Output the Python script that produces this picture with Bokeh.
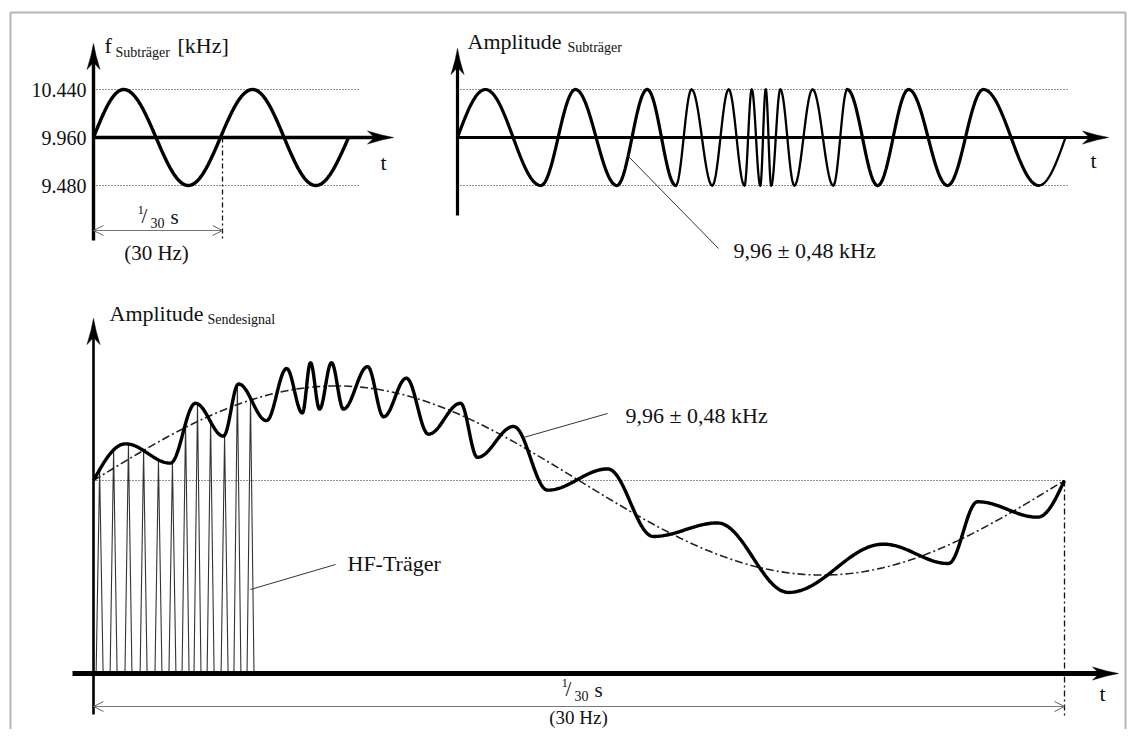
import numpy as np
from bokeh.plotting import figure
from bokeh.models import Range1d, Label, Arrow, OpenHead, ColumnDataSource
from bokeh.core.properties import value
from bokeh.embed import file_html
from bokeh.resources import INLINE

# ---------------- data ----------------
PERIOD_MS = 1000.0 / 30.0            # 1/30 s  (30 Hz)

# Panel 1: subcarrier frequency [kHz] over time [ms] (extrema of the 30 Hz sine)
f_tick_values = [10.440, 9.960, 9.480]
f_tick_labels = ["10.440", "9.960", "9.480"]
f_centre_khz = 9.960
f_wave_t_ms = [0.0, 7.8, 24.5, 41.1, 57.4, 65.9]
f_wave_khz = [9.960, 10.440, 9.480, 10.440, 9.480, 9.960]
f_ref_end_ms = 68.5

# Panel 2: subcarrier amplitude (normalised time 0..1), positions of the extrema
sub_t = [0.000, 0.046, 0.137, 0.194, 0.262, 0.312, 0.359, 0.385, 0.419, 0.446,
         0.472, 0.484, 0.498, 0.507, 0.516, 0.531, 0.554, 0.584, 0.618, 0.641,
         0.691, 0.742, 0.806, 0.865, 0.956, 1.000]
sub_amp = [0, 1, -1, 1, -1, 1, -1, 1, -1, 1, -1, 1, -1,
           1, -1, 1, -1, 1, -1, 1, -1, 1, -1, 1, -1, 0]
sub_ref_end = 1.005

# Panel 3: transmitted signal amplitude over time [ms] (extrema of the thick curve)
send_t_ms = [0.00, 1.10, 2.64, 3.50, 4.46, 4.98, 5.94, 6.63, 7.17, 7.45,
             7.76, 8.17, 8.58, 9.41, 9.96, 10.74, 11.50, 12.60, 13.18, 14.42,
             15.59, 17.65, 19.22, 21.42, 23.86, 27.12, 29.35, 30.35, 32.41, 33.33]
send_amp = [1.00, 1.19, 1.09, 1.40, 1.23, 1.50, 1.31, 1.58, 1.35, 1.61,
            1.37, 1.61, 1.37, 1.59, 1.33, 1.53, 1.24, 1.40, 1.12, 1.28,
            0.95, 1.06, 0.71, 0.78, 0.42, 0.67, 0.57, 0.89, 0.81, 1.00]
env_t_ms = [0.0, 8.33, 25.0, 33.33]      # 30 Hz envelope (dash-dot)
env_amp = [1.00, 1.49, 0.51, 1.00]
rest_amp = 1.0
hf_peak_t_ms = [0.21, 0.69, 1.20, 1.72, 2.23, 2.71, 3.16, 3.57, 4.02, 4.50, 4.94, 5.39]
hf_half_width_ms = 0.12

label_freq = "9,96 \u00b1 0,48 kHz"

# ---------------- figure ----------------
W, H = 1127, 729
PX0, PY0 = 0, 0          # picture coordinates of the plot's top-left corner
FONT = "Liberation Serif"

p = figure(width=W, height=H, output_backend="svg", toolbar_location=None,
           x_range=Range1d(PX0, PX0 + W), y_range=Range1d(PY0 + H, PY0),
           min_border=0, x_axis_location=None, y_axis_location=None,
           outline_line_color=None, background_fill_color="white",
           border_fill_color="white")
p.xgrid.visible = False
p.ygrid.visible = False


class Lin:
    def __init__(self, d0, d1, q0, q1):
        self.d0, self.q0 = d0, q0
        self.k = (q1 - q0) / (d1 - d0)

    def __call__(self, d):
        return self.q0 + (np.asarray(d, dtype=float) - self.d0) * self.k

    def inv(self, q):
        return self.d0 + (q - self.q0) / self.k


P1X, P1Y = Lin(0, PERIOD_MS, 93, 222), Lin(9.96, 10.44, 137, 89)
P2X, P2Y = Lin(0, 1, 457, 1065), Lin(0, 1, 137, 89)
P3X, P3Y = Lin(0, PERIOD_MS, 93, 1064), Lin(0, 1, 673, 480)


def xr(m):
    return Range1d(start=m.inv(PX0), end=m.inv(PX0 + W))


def yr(m):
    return Range1d(start=m.inv(PY0 + H), end=m.inv(PY0))


p.extra_x_ranges = {"p1x": xr(P1X), "p2x": xr(P2X), "p3x": xr(P3X)}
p.extra_y_ranges = {"p1y": yr(P1Y), "p2y": yr(P2Y), "p3y": yr(P3Y)}


def shaped(ts, vs, n=40):
    segs = []
    last = len(ts) - 1
    for i in range(last):
        k0 = "c" if i == 0 else "e"
        k1 = "c" if i + 1 == last else "e"
        u = np.linspace(0, 1, n)
        if k0 == "e" and k1 == "e":
            f = (1 - np.cos(np.pi * u)) / 2
        elif k0 == "c" and k1 == "e":
            f = np.sin(np.pi * u / 2)
        elif k0 == "e" and k1 == "c":
            f = 1 - np.cos(np.pi * u / 2)
        else:
            f = u
        segs.append((ts[i] + (ts[i + 1] - ts[i]) * u, vs[i] + (vs[i + 1] - vs[i]) * f))
    return segs


def joined(segs):
    x = np.concatenate([s[0] if i == 0 else s[0][1:] for i, s in enumerate(segs)])
    y = np.concatenate([s[1] if i == 0 else s[1][1:] for i, s in enumerate(segs)])
    return x, y


# ---------------- frame ----------------
p.line([10, 10, 1125, 1125], [760, 12, 12, 760], line_color="#b5b5b5", line_width=2)

# ---------------- reference lines ----------------
DOT = "1 2"
DASHDOT = "8 3 2 3"
for v in (f_tick_values[0], f_tick_values[2]):
    p.line([0, f_ref_end_ms], [v, v], x_range_name="p1x", y_range_name="p1y",
           line_color="#222", line_width=1.2, line_dash=DOT)
for v in (1, -1):
    p.line([0, sub_ref_end], [v, v], x_range_name="p2x", y_range_name="p2y",
           line_color="#222", line_width=1.2, line_dash=DOT)
p.line([0, PERIOD_MS], [rest_amp, rest_amp], x_range_name="p3x", y_range_name="p3y",
       line_color="#222", line_width=1.2, line_dash=DOT)

# dash-dot period markers
p.line([PERIOD_MS, PERIOD_MS], [f_centre_khz, P1Y.inv(240)], x_range_name="p1x",
       y_range_name="p1y", line_color="#111", line_width=1.3, line_dash="5 3 2 3")
p.line([PERIOD_MS, PERIOD_MS], [rest_amp, P3Y.inv(716)], x_range_name="p3x",
       y_range_name="p3y", line_color="#111", line_width=1.3, line_dash="6 3 2 3")

# ---------------- panel 1 curve ----------------
fx, fy = joined(shaped(f_wave_t_ms, f_wave_khz))
p.line(fx, fy, x_range_name="p1x", y_range_name="p1y", line_color="black",
       line_width=3.4, line_join="round")

# ---------------- panel 2 curve (FM subcarrier) ----------------
segs2 = shaped(sub_t, sub_amp, n=30)
lw2 = [3.2 if (s[0][-1] - s[0][0]) >= 0.045 else 2.3 for s in segs2]
src2 = ColumnDataSource(dict(xs=[list(s[0]) for s in segs2],
                             ys=[list(s[1]) for s in segs2], lw=lw2))
p.multi_line("xs", "ys", source=src2, x_range_name="p2x", y_range_name="p2y",
             line_color="black", line_width="lw", line_join="round", line_cap="round")

# ---------------- panel 3 ----------------
sx, sy = joined(shaped(send_t_ms, send_amp, n=40))
hf_top = np.interp(hf_peak_t_ms, sx, sy)
hf_xs = [[t - hf_half_width_ms, t, t + hf_half_width_ms] for t in hf_peak_t_ms]
hf_ys = [[0, a, 0] for a in hf_top]
p.multi_line(hf_xs, hf_ys, x_range_name="p3x", y_range_name="p3y",
             line_color="#333", line_width=1.1)

ex, ey = joined(shaped(env_t_ms, env_amp, n=80))
p.line(ex, ey, x_range_name="p3x", y_range_name="p3y", line_color="#222",
       line_width=1.6, line_dash=DASHDOT)
p.line(sx, sy, x_range_name="p3x", y_range_name="p3y", line_color="black",
       line_width=3.4, line_join="round")

# ---------------- axes with arrow heads (page coordinates) ----------------
def stealth(tx, ty, d):
    L, Wd, N, M, Mw = 26, 6.5, 19, 12, 2.5
    pts = [(0, 0), (M, -Mw), (L, -Wd), (N, 0), (L, Wd), (M, Mw)]
    if d == "up":
        return [tx + b for a, b in pts], [ty + a for a, b in pts]
    return [tx - a for a, b in pts], [ty + b for a, b in pts]


axes = [  # (x0, y0, x1, y1, width, direction)
    (93, 240, 93, 55, 3.4, "up"),
    (93, 137, 380, 137, 3.6, "right"),
    (457, 215, 457, 60, 3.2, "up"),
    (457, 137, 1095, 137, 2.8, "right"),
    (93, 714, 93, 330, 2.6, "up"),
    (72, 673, 1105, 673, 5.0, "right"),
]
tips = [(93, 43), (393, 137), (457, 48), (1108, 137), (93, 318), (1118, 673)]
p.segment([a[0] for a in axes], [a[1] for a in axes], [a[2] for a in axes],
          [a[3] for a in axes], line_color="black", line_width=[a[4] for a in axes])
heads = [stealth(t[0], t[1], a[5]) for t, a in zip(tips, axes)]
p.patches([h[0] for h in heads], [h[1] for h in heads], fill_color="black",
          line_color="black", line_width=0.5)

# dimension arrows (1/30 s)
for xname, yv in (("p1x", 230), ("p3x", 706)):
    p.add_layout(Arrow(start=OpenHead(size=10, line_color="#666", line_width=1),
                       end=OpenHead(size=10, line_color="#666", line_width=1),
                       x_start=0, x_end=PERIOD_MS, y_start=yv, y_end=yv,
                       x_range_name=xname, line_color="#777", line_width=1))

# leader lines
p.segment([628, 523, 250], [156, 437, 589], [718, 607, 335], [248, 413, 564],
          line_color="#333", line_width=1)

# ---------------- texts ----------------
def lab(x, y, s, size=22, align="left"):
    p.add_layout(Label(x=x, y=y, text=s, text_font=FONT, text_font_size=f"{size}px",
                       text_align=align, text_baseline="middle", text_color="#111"))


p.text(x=[86] * len(f_tick_values), y=f_tick_values, text=f_tick_labels,
       y_range_name="p1y", text_font=value(FONT), text_font_size="20px",
       text_align="right", text_baseline="middle", text_color="#111")

lab(104, 45, "f")
lab(115, 52, "Subträger", 14)
lab(177, 45, "[kHz]")
lab(383, 162, "t", align="center")

lab(467, 41, "Amplitude")
lab(567, 47, "Subträger", 14)
lab(1093, 160, "t", align="center")
lab(733, 250, label_freq)

lab(109, 313, "Amplitude")
lab(207, 319, "Sendesignal", 14)
lab(1102, 693, "t", align="center")
lab(625, 415, label_freq)
lab(347, 563, "HF-Träger")


def one_thirtieth(x0, y0):
    lab(x0, y0 - 7, "1", 13)
    lab(x0 + 4, y0 - 1, "/", 21)
    lab(x0 + 13, y0 + 6, "30", 14)
    lab(x0 + 33, y0, "s", 21)


one_thirtieth(137, 216)
one_thirtieth(561, 689)
lab(156, 252, "(30 Hz)", size=21, align="center")
lab(578, 717, "(30 Hz)", size=19, align="center")

open("out.html", "w").write(file_html(p, INLINE))
